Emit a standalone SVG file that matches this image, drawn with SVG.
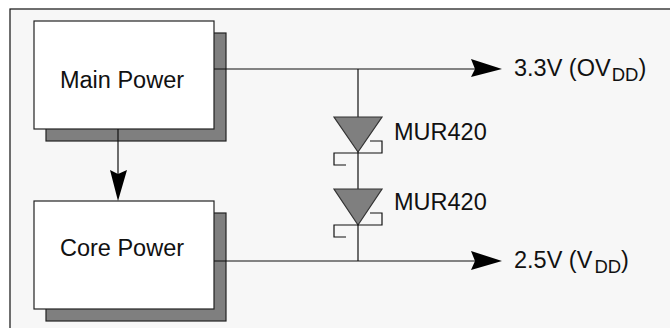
<svg xmlns="http://www.w3.org/2000/svg" width="670" height="328" viewBox="0 0 670 328">
<style>
.f{fill:#f7f7f7;stroke:#111;stroke-width:1.2}
.b{fill:#fff;stroke:#222;stroke-width:1.2}
.s{fill:#7f7f7f;stroke:#222;stroke-width:1.2}
.l{fill:none;stroke:#111;stroke-width:1.2}
.d{fill:#7f7f7f;stroke:#333;stroke-width:1.2}
.a{fill:#000;stroke:none}
text{font-family:"Liberation Sans",Arial,sans-serif;font-size:23.5px;fill:#111}
.u{font-size:18.5px}
</style>
<rect width="670" height="328" fill="#fff"/>
<rect class="f" x="10" y="9" width="680" height="340"/>
<g id="main-power">
<rect class="s" x="46" y="33" width="180" height="108"/>
<rect class="b" x="34" y="21" width="180" height="108"/>
<text x="122" y="88" text-anchor="middle">Main Power</text>
</g>
<g id="core-power">
<rect class="s" x="46" y="213" width="180" height="108"/>
<rect class="b" x="34" y="201" width="180" height="108"/>
<text x="122" y="256" text-anchor="middle">Core Power</text>
</g>
<g id="connectors">
<path class="l" d="M214 69H480M214 261H480M358 69V261M118 129V180"/>
<path class="a" d="M471 59L502 69L471 77L475 69Z"/>
<path class="a" d="M471 251L502 261L471 270L475 261Z"/>
<path class="a" d="M110 170L118 201L127 170L118 174Z"/>
</g>
<g id="diode-1">
<path class="d" d="M334 117H382L358 152Z"/>
<path class="l" d="M370 141H382V153H334V165H346"/>
<text x="394" y="140">MUR420</text>
</g>
<g id="diode-2">
<path class="d" d="M334 189H382L358 225Z"/>
<path class="l" d="M370 213H382V225H334V237H346"/>
<text x="394" y="210">MUR420</text>
</g>
<g id="label-3v3"><text x="514" y="76">3.3V (OV<tspan class="u" dx="1" dy="5">DD</tspan><tspan dy="-5">)</tspan></text></g>
<g id="label-2v5"><text x="514" y="268">2.5V (V<tspan class="u" dx="2" dy="5">DD</tspan><tspan dy="-5">)</tspan></text></g>
</svg>
